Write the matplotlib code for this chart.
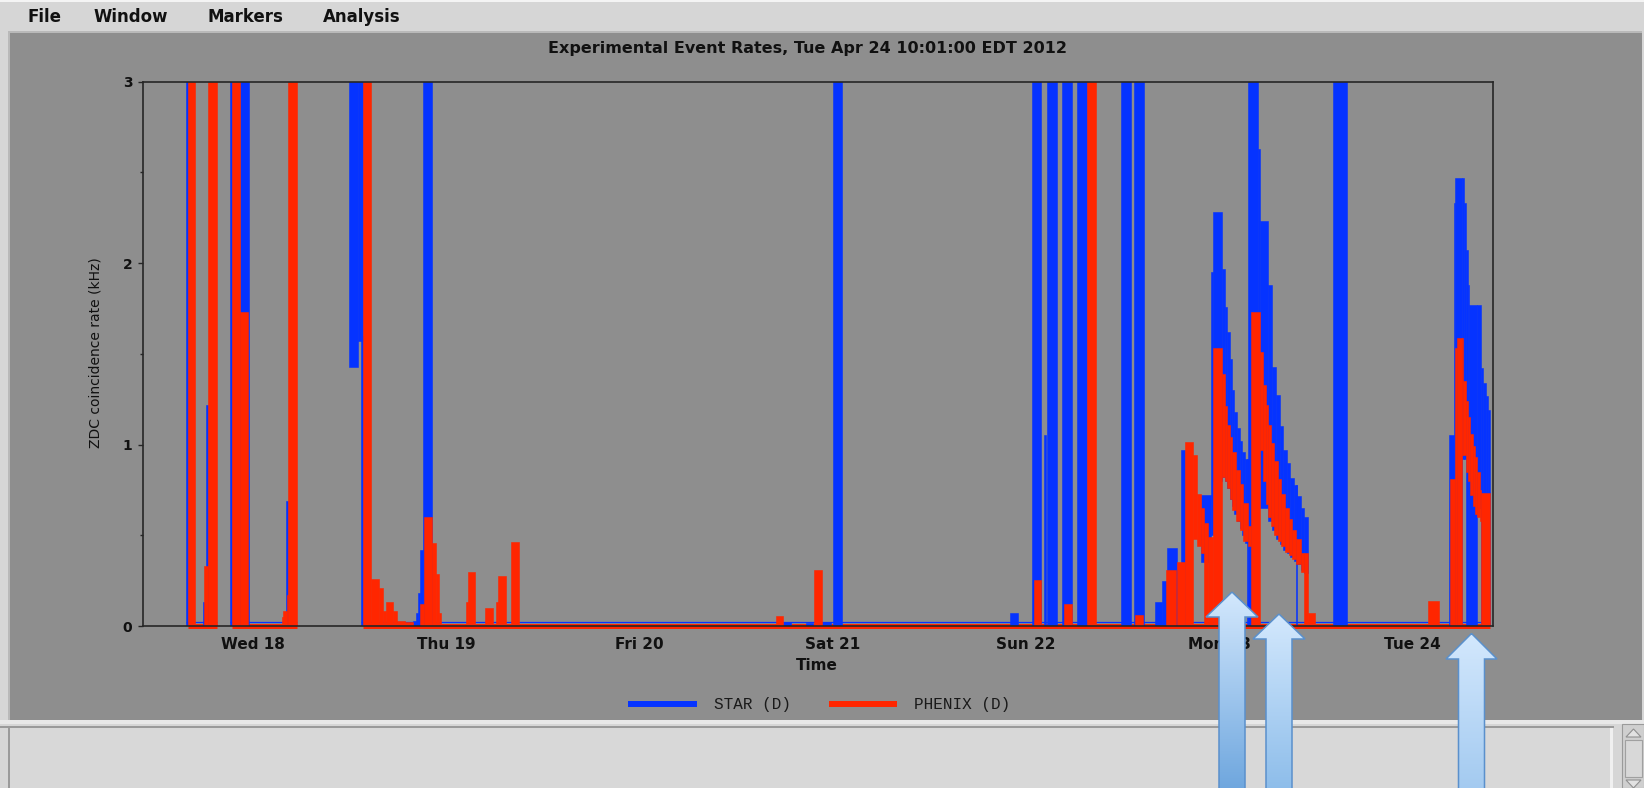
import matplotlib
matplotlib.use("Agg")
import matplotlib.pyplot as plt
import numpy as np
from matplotlib.patches import Rectangle, Polygon
from matplotlib.lines import Line2D
from matplotlib.font_manager import FontProperties
from matplotlib.colors import to_rgb

W, H, DPI = 1644, 788, 100

# ---------------- data ----------------
TITLE = "Experimental Event Rates, Tue Apr 24 10:01:00 EDT 2012"
MENU = ["File", "Window", "Markers", "Analysis"]
DAY_TICKS = [0, 1, 2, 3, 4, 5, 6]          # days since Wed 18 00:00
DAY_LABELS = ["Wed 18", "Thu 19", "Fri 20", "Sat 21", "Sun 22", "Mon 23", "Tue 24"]
X_RANGE = (-0.571, 6.418)
Y_TICKS = [0, 1, 2, 3]
Y_MINOR = [0.5, 1.5, 2.5]
SERIES = ["STAR (D)", "PHENIX (D)"]
OFF = 3.6   # off-scale rate (clipped at 3 kHz)

# (start day, end day, low kHz, high kHz) envelope of each recorded interval
STAR_SEGS = [
    (-0.348, -0.339, 0, OFF), (-0.258, -0.251, 0, 0.13), (-0.243, -0.234, 0, 1.22),
    (-0.117, -0.108, 0, OFF), (-0.067, -0.019, 0, OFF), (0.170, 0.180, 0, 0.69),
    (0.495, 0.545, 1.43, OFF), (0.545, 0.568, 1.57, OFF), (0.561, 0.570, 0, 1.60),
    (0.830, 0.842, 0, 0.03), (0.842, 0.852, 0, 0.07), (0.852, 0.862, 0, 0.18),
    (0.862, 0.878, 0, 0.42), (0.878, 0.928, 0, OFF),
    (2.745, 2.783, 0, 0.02), (2.862, 2.900, 0, 0.015), (2.944, 2.990, 0, 0.02),
    (3.000, 3.050, 0, OFF),
    (3.916, 3.962, 0, 0.07), (4.031, 4.080, 0, OFF), (4.094, 4.106, 0, 1.05),
    (4.112, 4.161, 0, OFF), (4.188, 4.238, 0, OFF), (4.265, 4.319, 0, OFF),
    (4.493, 4.542, 0, OFF), (4.560, 4.610, 0, OFF),
    (4.670, 4.706, 0, 0.13), (4.706, 4.733, 0, 0.25), (4.733, 4.784, 0, 0.43),
    (4.784, 4.802, 0, 0.31), (4.802, 4.824, 0, 0.97), (4.906, 4.960, 0.35, 0.72),
    (4.960, 4.969, 0.5, 1.95), (4.969, 5.014, 0.8, 2.28), (5.014, 5.029, 0.82, 1.97),
    (5.029, 5.042, 0.80, 1.76), (5.042, 5.055, 0.76, 1.62), (5.055, 5.066, 0.70, 1.47),
    (5.066, 5.078, 0.66, 1.30), (5.078, 5.091, 0.62, 1.18), (5.091, 5.106, 0.58, 1.09),
    (5.106, 5.120, 0.54, 1.02), (5.120, 5.133, 0.50, 0.96), (5.133, 5.151, 0.46, 0.92),
    (5.144, 5.151, 0, 0.92), (5.151, 5.202, 0, OFF), (5.202, 5.214, 0.9, 2.63),
    (5.214, 5.256, 0.65, 2.23), (5.256, 5.274, 0.58, 1.88), (5.274, 5.296, 0.53, 1.43),
    (5.296, 5.314, 0.48, 1.275), (5.314, 5.332, 0.45, 1.10), (5.332, 5.351, 0.42, 0.97),
    (5.351, 5.369, 0.40, 0.90), (5.369, 5.387, 0.38, 0.815), (5.387, 5.405, 0.36, 0.775),
    (5.400, 5.406, 0, 0.775), (5.405, 5.423, 0.34, 0.714), (5.423, 5.441, 0.31, 0.653),
    (5.441, 5.460, 0.29, 0.60), (5.590, 5.663, 0, OFF),
    (6.191, 6.216, 0, 1.05), (6.216, 6.222, 0, 2.33), (6.222, 6.256, 0, 2.47),
    (6.256, 6.269, 0.92, 2.47), (6.269, 6.277, 0.92, 2.33), (6.277, 6.288, 0, 2.07),
    (6.288, 6.296, 0, 1.88), (6.296, 6.337, 0, 1.77), (6.337, 6.357, 0.65, 1.77),
    (6.357, 6.366, 0, 1.42), (6.366, 6.380, 0, 1.34), (6.380, 6.391, 0, 1.27),
    (6.391, 6.400, 0, 1.19), (6.400, 6.404, 0, 0.74),
]
PHENIX_SEGS = [
    (-0.339, -0.300, 0, OFF), (-0.254, -0.234, 0, 0.33), (-0.234, -0.185, 0, OFF),
    (-0.108, -0.067, 0, OFF), (-0.067, -0.027, 0, 1.73), (0.149, 0.157, 0, 0.05),
    (0.157, 0.174, 0, 0.08), (0.174, 0.183, 0, 0.17), (0.183, 0.229, 0, OFF),
    (0.571, 0.611, 0, OFF), (0.611, 0.654, 0, 0.26), (0.654, 0.671, 0, 0.21),
    (0.671, 0.688, 0, 0.08), (0.688, 0.726, 0, 0.13), (0.726, 0.744, 0, 0.08),
    (0.744, 0.787, 0, 0.03), (0.787, 0.830, 0, 0.02), (0.864, 0.887, 0, 0.12),
    (0.887, 0.925, 0, 0.60), (0.925, 0.946, 0, 0.455), (0.946, 0.963, 0, 0.285),
    (0.963, 0.972, 0, 0.07), (1.102, 1.111, 0, 0.13), (1.111, 1.151, 0, 0.295),
    (1.202, 1.244, 0, 0.10), (1.256, 1.267, 0, 0.13), (1.267, 1.310, 0, 0.275),
    (1.334, 1.375, 0, 0.465),
    (2.705, 2.745, 0, 0.055), (2.904, 2.944, 0, 0.31),
    (4.040, 4.076, 0, 0.255), (4.197, 4.238, 0, 0.12), (4.319, 4.361, 0, OFF),
    (4.565, 4.607, 0, 0.06),
    (4.724, 4.778, 0, 0.31), (4.784, 4.824, 0, 0.35), (4.824, 4.864, 0, 1.015),
    (4.864, 4.885, 0.48, 0.94), (4.885, 4.906, 0.44, 0.73), (4.906, 4.924, 0.40, 0.65),
    (4.924, 4.942, 0, 0.57), (4.942, 4.969, 0, 0.49), (4.969, 5.014, 0, 1.53),
    (5.014, 5.029, 0.82, 1.39), (5.029, 5.042, 0.80, 1.21), (5.042, 5.055, 0.76, 1.11),
    (5.055, 5.069, 0.70, 1.04), (5.069, 5.087, 0.64, 0.96), (5.087, 5.106, 0.58, 0.86),
    (5.106, 5.124, 0.53, 0.78), (5.124, 5.151, 0.47, 0.68), (5.151, 5.165, 0.44, 0.55),
    (5.165, 5.214, 0, 1.73), (5.214, 5.229, 0.97, 1.51), (5.229, 5.242, 0.80, 1.33),
    (5.242, 5.256, 0.67, 1.22), (5.256, 5.269, 0.60, 1.11), (5.269, 5.287, 0.55, 1.01),
    (5.287, 5.305, 0.50, 0.91), (5.305, 5.323, 0.47, 0.81), (5.323, 5.342, 0.44, 0.73),
    (5.342, 5.360, 0.41, 0.65), (5.360, 5.378, 0.39, 0.59), (5.378, 5.396, 0.37, 0.53),
    (5.396, 5.423, 0.34, 0.48), (5.423, 5.441, 0.30, 0.40), (5.441, 5.460, 0, 0.40),
    (5.460, 5.496, 0, 0.07),
    (6.079, 6.136, 0, 0.14), (6.196, 6.219, 0, 0.81), (6.219, 6.230, 0, 1.53),
    (6.230, 6.256, 0, 1.59), (6.256, 6.265, 0.94, 1.59), (6.265, 6.277, 0.94, 1.35),
    (6.277, 6.288, 0.85, 1.24), (6.288, 6.299, 0.80, 1.15), (6.299, 6.313, 0.72, 1.06),
    (6.313, 6.325, 0.66, 0.99), (6.325, 6.337, 0.62, 0.93), (6.337, 6.351, 0.60, 0.85),
    (6.351, 6.357, 0.58, 0.75), (6.357, 6.400, 0, 0.735),
]
# intervals with data recorded at ~zero rate
STAR_BASE = [(-0.348, -0.185), (-0.117, 0.229), (0.561, 6.404)]
PHENIX_BASE = [(-0.339, -0.185), (-0.108, 0.229), (0.571, 6.400)]

# ---------------- style ----------------
GRAY = "#8e8e8e"
LIGHT = "#d6d6d6"
BLUE = "#0533ff"
RED = "#ff2600"
SPINE = "#262626"
BOLD = ["DejaVu Sans"]

fig = plt.figure(figsize=(W / DPI, H / DPI), dpi=DPI)
fig.patch.set_facecolor(GRAY)

# ---------------- window chrome (pixel coords) ----------------
bg = fig.add_axes([0, 0, 1, 1], zorder=-5)
bg.set_xlim(0, W); bg.set_ylim(H, 0); bg.axis("off")


def box(x, y, w, h, fc, ec="none", lw=0):
    bg.add_patch(Rectangle((x, y), w, h, facecolor=fc, edgecolor=ec, linewidth=lw))


box(0, 0, W, 31, LIGHT)
box(0, 0, W, 2, "#f4f4f4")
box(0, 31, 8, 690, LIGHT)
box(8, 31, W - 8, 2, "#b9b9b9")
box(8, 31, 2, 690, "#b9b9b9")
box(1642, 31, 2, 690, LIGHT)
box(0, 720, W, 68, LIGHT)
box(0, 720, W, 4, "#e8e8e8")
box(0, 726, 1614, 2, "#9a9a9a")
box(8, 726, 2, 62, "#9a9a9a")
box(10, 728, 1600, 60, "#d8d8d8")
box(1610, 728, 3, 60, "#f0f0f0")
box(1622, 724, 22, 64, "#cfcfcf", "#9a9a9a", 0.8)
box(1625, 740, 17, 37, "#d8d8d8", "#a0a0a0", 0.8)
bg.add_patch(Polygon([(1626, 737), (1641, 737), (1633.5, 729)], facecolor="#e2e2e2",
                     edgecolor="#909090", linewidth=0.8))
bg.add_patch(Polygon([(1626, 780), (1641, 780), (1633.5, 788)], facecolor="#e2e2e2",
                     edgecolor="#909090", linewidth=0.8))

menu_x = [27, 93, 207, 323]
for name, mx in zip(MENU, menu_x):
    fig.text(mx / W, 1 - 17 / H, name, ha="left", va="center", fontsize=12,
             fontweight="bold", family=BOLD, color="#111111")

fig.text(807.5 / W, 1 - 49 / H, TITLE, ha="center", va="center", fontsize=11.5,
         fontweight="bold", family=BOLD, color="#111111")

# ---------------- plot ----------------
ax = fig.add_axes([142.7 / W, 1 - 626 / H, (1493 - 142.7) / W, (626 - 81.7) / H], zorder=1)
ax.set_facecolor(GRAY)


def draw_series(segs, color, z):
    a = np.array(segs, dtype=float)
    ax.bar(a[:, 0], a[:, 3] - a[:, 2], width=a[:, 1] - a[:, 0], bottom=a[:, 2],
           align="edge", color=color, edgecolor=color, linewidth=0.4, zorder=z)


sb = np.array(STAR_BASE)
pb = np.array(PHENIX_BASE)
ax.hlines(np.full(len(pb), 0.0), pb[:, 0], pb[:, 1], colors=RED, linewidth=3.6,
          clip_on=False, zorder=2)
ax.hlines(np.full(len(sb), 0.02), sb[:, 0], sb[:, 1], colors=BLUE, linewidth=0.9,
          zorder=2.5)
draw_series(STAR_SEGS, BLUE, 3)
draw_series(PHENIX_SEGS, RED, 4)

ax.set_xlim(*X_RANGE)
ax.set_ylim(0, 3)
ax.set_xticks(DAY_TICKS)
ax.set_xticklabels(DAY_LABELS, fontsize=11, fontweight="bold", family=BOLD, color="#111111")
ax.tick_params(axis="x", length=0, pad=8)
ax.set_yticks(Y_TICKS)
ax.set_yticklabels([str(v) for v in Y_TICKS], fontsize=10, fontweight="bold",
                   family=BOLD, color="#111111")
ax.set_yticks(Y_MINOR, minor=True)
ax.tick_params(axis="y", which="major", length=3.5, width=1, color=SPINE, pad=4)
ax.tick_params(axis="y", which="minor", length=2.5, width=1, color=SPINE)
for s in ax.spines.values():
    s.set_color(SPINE)
    s.set_linewidth(1.2)
    s.set_zorder(6)

fig.text(95 / W, 1 - 353 / H, "ZDC coincidence rate (kHz)", rotation=90, ha="center",
         va="center", fontsize=10, family=["Liberation Sans Narrow", "DejaVu Sans"],
         color="#111111")
fig.text(817 / W, 1 - 666 / H, "Time", ha="center", va="center", fontsize=11,
         fontweight="bold", family=BOLD, color="#111111")

handles = [Line2D([], [], color=BLUE, linewidth=4.3), Line2D([], [], color=RED, linewidth=4.3)]
leg = fig.legend(handles, SERIES, loc="center", bbox_to_anchor=(821 / W, 1 - 705 / H),
                 ncol=2, frameon=False,
                 prop=FontProperties(family=["Liberation Mono", "DejaVu Sans Mono"], size=11.5),
                 handlelength=3.9, handletextpad=1.25, columnspacing=2.6)
for t in leg.get_texts():
    t.set_color("#1a1a1a")

# ---------------- annotation arrows (overlay) ----------------
ov = fig.add_axes([0, 0, 1, 1], zorder=10)
ov.set_xlim(0, W); ov.set_ylim(H, 0); ov.axis("off")
ov.patch.set_alpha(0)

ARROWS = [  # tip x, tip y, head base y, head half width, shaft half width, bottom colour
    (1232, 592, 617, 26, 13, "#6ea6de"),
    (1279, 614, 639, 26, 13, "#8dbdea"),
    (1471.5, 633.5, 659, 25.5, 13, "#a3caf0"),
]
TIP_COLOR = "#d3e8fd"
tail = H + 2
for tx, ty, hb, hw, sw, bc in ARROWS:
    pts = [(tx, ty), (tx + hw, hb), (tx + sw, hb), (tx + sw, tail), (tx - sw, tail),
           (tx - sw, hb), (tx - hw, hb)]
    clip = Polygon(pts, closed=True, facecolor="none", edgecolor="none")
    ov.add_patch(clip)
    c0, c1 = np.array(to_rgb(TIP_COLOR)), np.array(to_rgb(bc))
    f = np.linspace(0, 1, 256)[:, None]
    grad = (c0 * (1 - f) + c1 * f)[:, None, :]
    im = ov.imshow(grad, extent=(tx - hw, tx + hw, tail, ty), aspect="auto",
                   interpolation="bilinear", zorder=10)
    im.set_clip_path(clip)
    ov.add_patch(Polygon(pts, closed=True, facecolor="none", edgecolor="#5a90cc",
                         linewidth=1.1, zorder=11))
ov.set_xlim(0, W); ov.set_ylim(H, 0)

fig.savefig("out.png", dpi=DPI, facecolor=fig.get_facecolor())
